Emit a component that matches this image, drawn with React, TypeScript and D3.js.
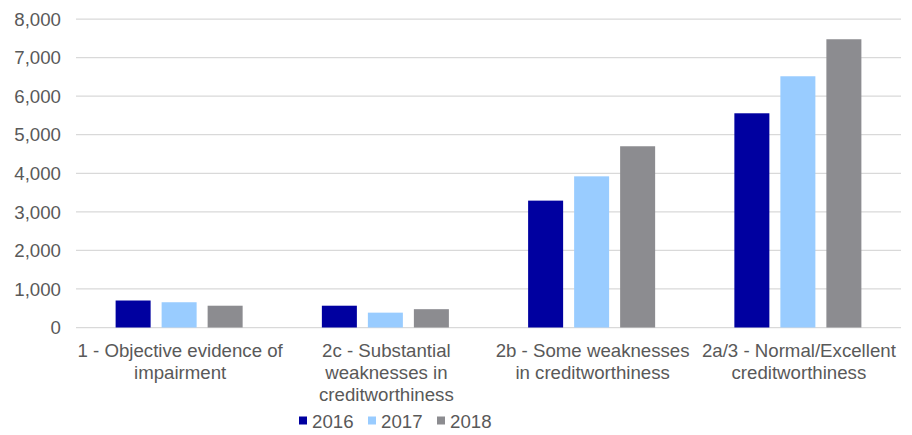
import React from "react";
import * as d3 from "d3";

const categories = [
  ["1 - Objective evidence of", "impairment"],
  ["2c - Substantial", "weaknesses in", "creditworthiness"],
  ["2b - Some weaknesses", "in creditworthiness"],
  ["2a/3 - Normal/Excellent", "creditworthiness"],
];
const seriesNames = ["2016", "2017", "2018"];
const seriesColors = ["#0000A0", "#99CCFF", "#8C8C90"];
const values2016 = [700, 565, 3290, 5555];
const values2017 = [655, 385, 3920, 6515];
const values2018 = [565, 475, 4700, 7475];
const yTicks = [0, 1000, 2000, 3000, 4000, 5000, 6000, 7000, 8000];

const W = 912;
const H = 435;
const FONT = "'Liberation Sans', Arial, sans-serif";
const TEXT = "#595959";

export default function App() {
  const series = [values2016, values2017, values2018];
  const catIdx = categories.map((_, i) => String(i));
  const x = d3.scaleBand<string>().domain(catIdx).range([76, 901]).padding(0);
  const xs = d3
    .scaleBand<string>()
    .domain(seriesNames)
    .range([0, x.bandwidth()])
    .paddingInner(0.239)
    .paddingOuter(0.861);
  const y = d3.scaleLinear().domain([0, 8000]).range([327.5, 19]);
  const fmt = d3.format(",");

  return (
    <svg
      width={W}
      height={H}
      style={{ position: "absolute", left: 0, top: 0, background: "#fff" }}
      fontFamily={FONT}
    >
      {yTicks.map((t) => (
        <g key={t}>
          <line
            x1={76}
            x2={901}
            y1={y(t)}
            y2={y(t)}
            stroke="#D9D9D9"
            strokeWidth={1.25}
          />
          <text
            x={61}
            y={y(t) + 6.7}
            textAnchor="end"
            fontSize={18.67}
            fill={TEXT}
          >
            {fmt(t)}
          </text>
        </g>
      ))}
      {series.map((vals, si) =>
        vals.map((v, ci) => (
          <rect
            key={`${si}-${ci}`}
            x={(x(String(ci)) as number) + (xs(seriesNames[si]) as number)}
            y={y(v)}
            width={xs.bandwidth()}
            height={y(0) - y(v)}
            fill={seriesColors[si]}
          />
        ))
      )}
      {categories.map((lines, ci) => (
        <text
          key={ci}
          x={(x(String(ci)) as number) + x.bandwidth() / 2 + 1}
          textAnchor="middle"
          fontSize={18.67}
          fill={TEXT}
        >
          {lines.map((l, li) => (
            <tspan key={li} x={(x(String(ci)) as number) + x.bandwidth() / 2 + 1} y={357 + li * 22}>
              {l}
            </tspan>
          ))}
        </text>
      ))}
      {seriesNames.map((n, i) => (
        <g key={n} transform={`translate(${299 + i * 69},0)`}>
          <rect x={0} y={416.5} width={8} height={8} fill={seriesColors[i]} />
          <text x={13} y={428} fontSize={18.67} fill={TEXT}>
            {n}
          </text>
        </g>
      ))}
    </svg>
  );
}
